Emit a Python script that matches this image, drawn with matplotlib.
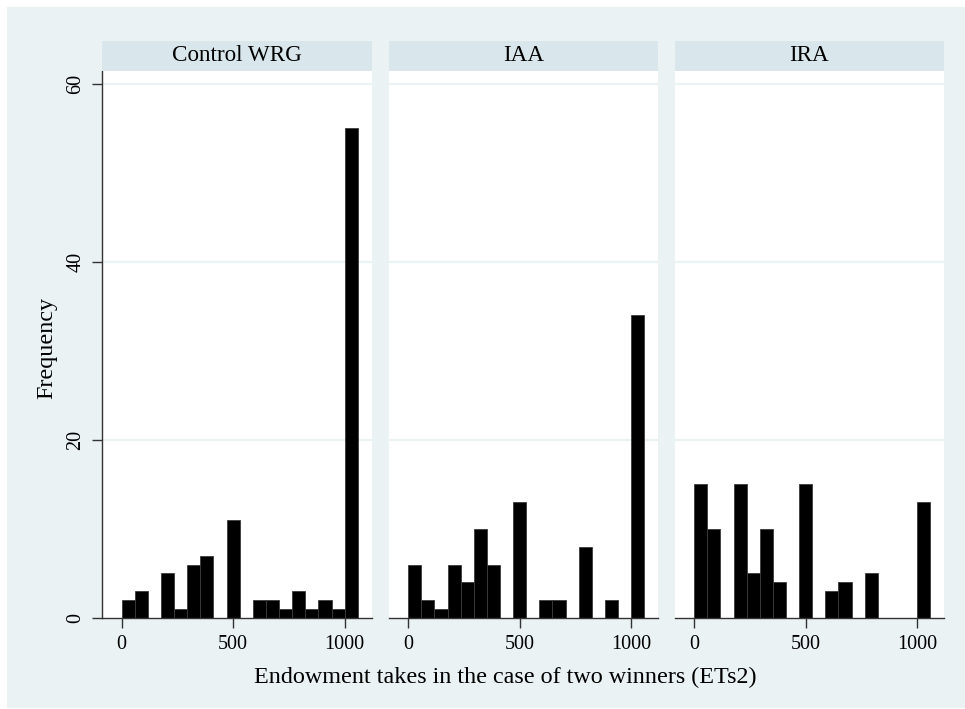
import numpy as np
import matplotlib
matplotlib.use("Agg")
import matplotlib.pyplot as plt
from matplotlib.patches import Rectangle

plt.rcParams["font.family"] = ["Liberation Serif", "DejaVu Serif"]

# Histogram data: 18 bins of width 1000/17 starting at 0
bin_width = 1000 / 17
bin_starts = np.arange(18) * bin_width

panel_titles = ["Control WRG", "IAA", "IRA"]
counts_control = [2, 3, 0, 5, 1, 6, 7, 0, 11, 0, 2, 2, 1, 3, 1, 2, 1, 55]
counts_iaa = [6, 2, 1, 6, 4, 10, 6, 0, 13, 0, 2, 2, 0, 8, 0, 2, 0, 34]
counts_ira = [15, 10, 0, 15, 5, 10, 4, 0, 15, 0, 3, 4, 0, 5, 0, 0, 0, 13]
all_counts = [counts_control, counts_iaa, counts_ira]

x_ticks = [0, 500, 1000]
y_ticks = [0, 20, 40, 60]

BG = "#EAF2F3"
STRIP = "#D9E6EB"
AXIS = "#333333"

W, H = 965, 709
fig = plt.figure(figsize=(W / 100, H / 100), dpi=100)
fig.patch.set_facecolor("white")

# Graph region background (behind all axes)
bg = Rectangle((7 / W, 1 / H), (W - 7) / W, (H - 8) / H,
               transform=fig.transFigure, facecolor=BG, edgecolor="none")
bg.set_zorder(-10)
fig.add_artist(bg)

lefts = [102, 388.5, 674.5]
pw = 269.5
plot_top, plot_bot = 70.7, 618
strip_top = 40.7

for i, (left, counts, title) in enumerate(zip(lefts, all_counts, panel_titles)):
    ax = fig.add_axes([left / W, (H - plot_bot) / H, pw / W,
                       (plot_bot - plot_top) / H])
    ax.set_facecolor("white")
    ax.bar(bin_starts, counts, width=bin_width, align="edge",
           color="black", edgecolor="#3a3a3a", linewidth=0.6, zorder=3)
    ax.set_xlim(-88, 1120)
    ax.set_ylim(0, 61.45)
    for yv in y_ticks[1:]:
        ax.axhline(yv, color=BG, linewidth=1.6, zorder=1)

    for s in ["top", "right"]:
        ax.spines[s].set_visible(False)
    ax.spines["bottom"].set_color(AXIS)
    ax.spines["bottom"].set_linewidth(1.0)
    ax.spines["bottom"].set_zorder(4)

    ax.set_xticks(x_ticks)
    ax.tick_params(axis="x", length=7, width=1.0, color=AXIS,
                   labelsize=14.5, pad=5)
    if i == 0:
        ax.spines["left"].set_color(AXIS)
        ax.spines["left"].set_linewidth(1.0)
        ax.set_yticks(y_ticks)
        ax.tick_params(axis="y", length=7, width=1.0, color=AXIS,
                       labelsize=14.5, pad=5)
        for lab in ax.get_yticklabels():
            lab.set_rotation(90)
            lab.set_va("center")
    else:
        ax.spines["left"].set_visible(False)
        ax.set_yticks([])

    # Panel title strip
    sax = fig.add_axes([left / W, (H - plot_top) / H, pw / W,
                        (plot_top - strip_top) / H])
    sax.set_facecolor(STRIP)
    sax.set_xticks([])
    sax.set_yticks([])
    for s in sax.spines.values():
        s.set_visible(False)
    sax.text(0.5, 0.5, title, ha="center", va="center", fontsize=16.7,
             transform=sax.transAxes)

fig.text(505 / W, 1 - 677 / H, "Endowment takes in the case of two winners (ETs2)",
         ha="center", va="center", fontsize=17.4)
fig.text(47 / W, 1 - 348 / H, "Frequency", ha="center", va="center",
         rotation=90, fontsize=17.4)

fig.savefig("out.png", dpi=100, facecolor=fig.get_facecolor())
